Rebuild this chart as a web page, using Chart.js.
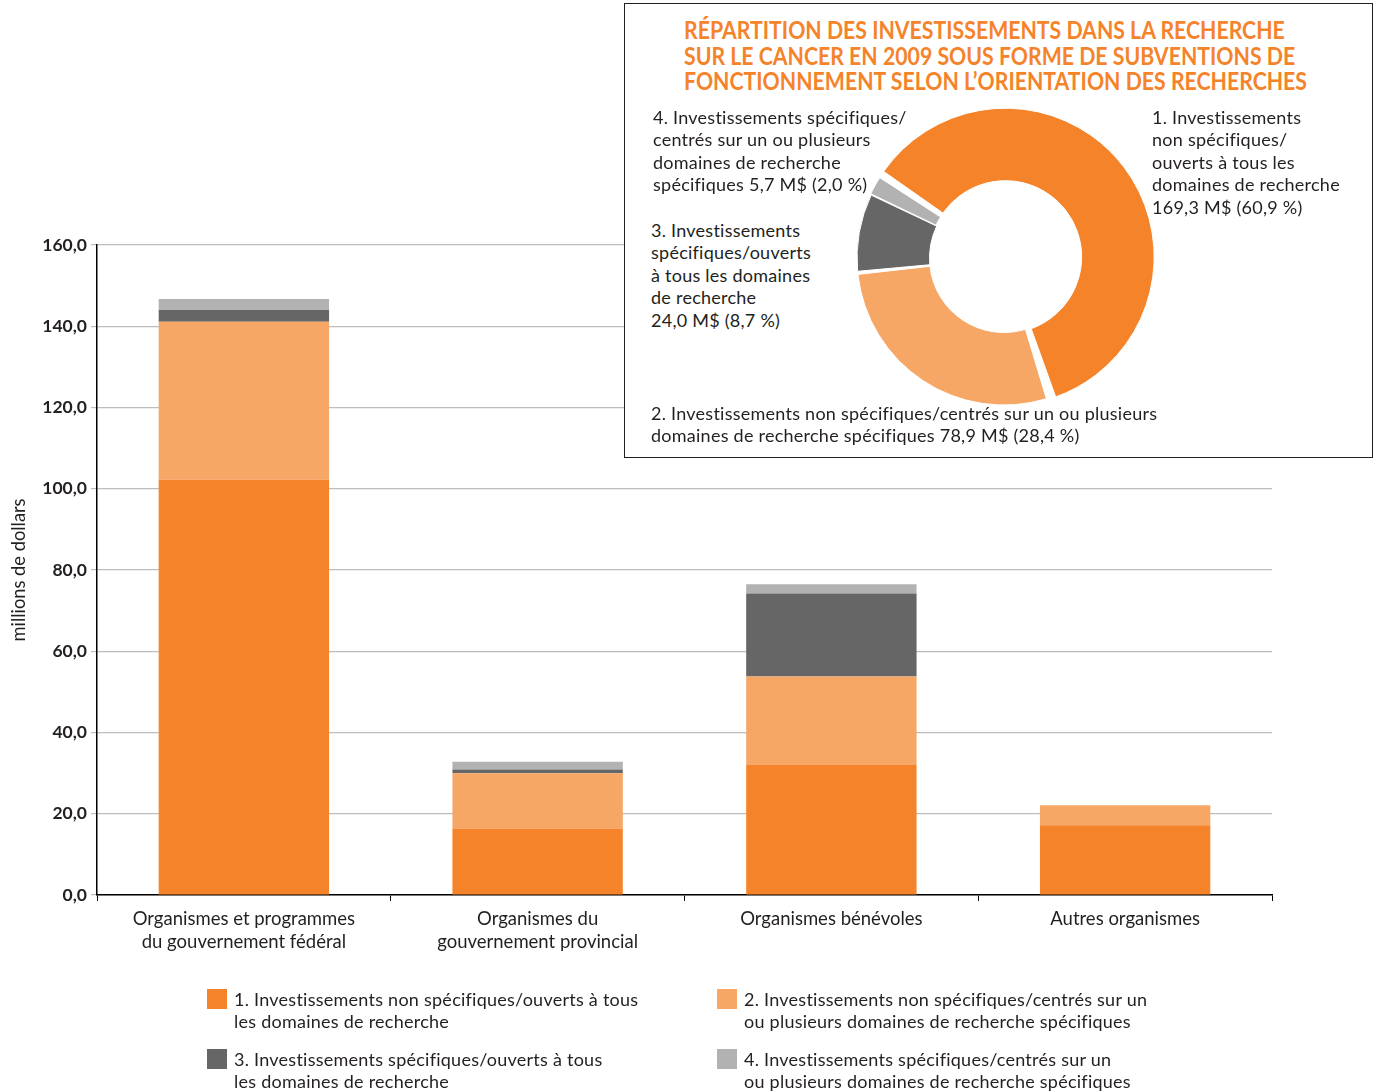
<!DOCTYPE html>
<html>
<head>
<meta charset="utf-8">
<script src="https://cdn.jsdelivr.net/npm/chart.js@4.4.1/dist/chart.umd.min.js"></script>
<style>
  body { margin: 0; background: #fff; }
  #wrap { position: relative; width: 1379px; height: 1092px; font-family: Lato, sans-serif; color: #231f20; }
  #main { position: absolute; left: 0; top: 0; }
  #inset { position: absolute; left: 624px; top: 3px; width: 749px; height: 455px; box-sizing: border-box; border: 1px solid #231f20; background: #fff; }
  #donut { position: absolute; left: 853px; top: 107px; }
  .title { position: absolute; left: 684px; top: 17px; font: bold 24px Lato, sans-serif; line-height: 25.5px; color: #f5832a; white-space: nowrap; transform-origin: 0 0; }
  .lbl { position: absolute; font-size: 18px; letter-spacing: 0.25px; line-height: 22.6px; white-space: nowrap; }
  .leg { position: absolute; font-size: 18px; letter-spacing: 0.25px; line-height: 22px; white-space: nowrap; }
  .sw { position: absolute; width: 20px; height: 20px; }
</style>
</head>
<body>
<div id="wrap">
  <canvas id="main" width="1379" height="1092"></canvas>
  <div id="inset"></div>
  <canvas id="donut" width="302" height="302"></canvas>
  <div class="title" id="title"></div>
</div>
<script>
// données
const categories = [
  ['Organismes et programmes', 'du gouvernement fédéral'],
  ['Organismes du', 'gouvernement provincial'],
  'Organismes bénévoles',
  'Autres organismes'
];
const seriesNames = [
  ['1. Investissements non spécifiques/ouverts à tous', 'les domaines de recherche'],
  ['2. Investissements non spécifiques/centrés sur un', 'ou plusieurs domaines de recherche spécifiques'],
  ['3. Investissements spécifiques/ouverts à tous', 'les domaines de recherche'],
  ['4. Investissements spécifiques/centrés sur un', 'ou plusieurs domaines de recherche spécifiques']
];
const nonSpecOpen = [102.2, 16.4, 32.0, 17.2];
const nonSpecFocused = [38.9, 13.6, 21.8, 4.9];
const specOpen = [2.9, 0.9, 20.4, 0];
const specFocused = [2.7, 1.9, 2.3, 0];
const colors = ['#f5832a', '#f6a765', '#666666', '#b2b2b2'];

const donutValues = [169.3, 78.9, 24.0, 5.7];
const donutTitle = [
  'RÉPARTITION DES INVESTISSEMENTS DANS LA RECHERCHE',
  'SUR LE CANCER EN 2009 SOUS FORME DE SUBVENTIONS DE',
  'FONCTIONNEMENT SELON L’ORIENTATION DES RECHERCHES'
];
const donutLabels = [
  ['1. Investissements', 'non spécifiques/', 'ouverts à tous les', 'domaines de recherche', '169,3 M$ (60,9 %)'],
  ['2. Investissements non spécifiques/centrés sur un ou plusieurs', 'domaines de recherche spécifiques 78,9 M$ (28,4 %)'],
  ['3. Investissements', 'spécifiques/ouverts', 'à tous les domaines', 'de recherche', '24,0 M$ (8,7 %)'],
  ['4. Investissements spécifiques/', 'centrés sur un ou plusieurs', 'domaines de recherche', 'spécifiques 5,7 M$ (2,0 %)']
];

const wrap = document.getElementById('wrap');

// titre : police condensée simulée
const titleEl = document.getElementById('title');
titleEl.innerHTML = donutTitle.join('<br>');
titleEl.style.transform = 'scaleX(' + (623 / titleEl.offsetWidth) + ')';

// étiquettes du graphique en anneau
const labelPos = [[1152, 105.7], [651, 401.7], [651, 218.7], [653, 105.7]];
donutLabels.forEach((lines, i) => {
  const d = document.createElement('div');
  d.className = 'lbl';
  d.style.left = labelPos[i][0] + 'px';
  d.style.top = labelPos[i][1] + 'px';
  d.innerHTML = lines.join('<br>');
  wrap.appendChild(d);
});

// légende
const legPos = [[207, 989], [717, 989], [207, 1049], [717, 1049]];
seriesNames.forEach((lines, i) => {
  const sw = document.createElement('div');
  sw.className = 'sw';
  sw.style.left = legPos[i][0] + 'px';
  sw.style.top = legPos[i][1] + 'px';
  sw.style.background = colors[i];
  wrap.appendChild(sw);
  const t = document.createElement('div');
  t.className = 'leg';
  t.style.left = (legPos[i][0] + 27) + 'px';
  t.style.top = (legPos[i][1] - 1) + 'px';
  t.innerHTML = lines.join('<br>');
  wrap.appendChild(t);
});

const values = [nonSpecOpen, nonSpecFocused, specOpen, specFocused];

new Chart(document.getElementById('main'), {
  type: 'bar',
  data: {
    labels: categories,
    datasets: values.map((v, i) => ({
      label: seriesNames[i].join(' '),
      data: v,
      backgroundColor: colors[i],
      borderWidth: 0,
      categoryPercentage: 1,
      barPercentage: 0.58
    }))
  },
  options: {
    responsive: false,
    animation: false,
    layout: { padding: { left: 0, right: 107, top: 245, bottom: 137 } },
    plugins: { legend: { display: false }, tooltip: { enabled: false } },
    scales: {
      x: {
        stacked: true,
        afterFit: s => { s.height = 60; },
        border: { color: '#000', width: 1.5 },
        grid: { offset: true, drawOnChartArea: false, drawTicks: true, tickLength: 6, color: '#000' },
        ticks: { color: '#231f20', padding: 6, font: { family: 'Lato', size: 18.5, lineHeight: 1.25 } }
      },
      y: {
        stacked: true,
        min: 0,
        max: 160,
        afterFit: s => { s.width = 97; },
        border: { color: '#000', width: 1.5 },
        grid: { color: '#bdbdbd', lineWidth: 1.2, tickLength: 6 },
        ticks: {
          stepSize: 20,
          padding: 4,
          color: '#231f20',
          font: { family: 'Lato', size: 17.5, weight: 'bold' },
          callback: v => v.toFixed(1).replace('.', ',')
        },
        title: {
          display: true,
          text: 'millions de dollars',
          color: '#231f20',
          padding: { top: 8, bottom: 0 },
          font: { family: 'Lato', size: 18.3 }
        }
      }
    }
  }
});

new Chart(document.getElementById('donut'), {
  type: 'doughnut',
  data: {
    labels: donutLabels.map(l => l.join(' ')),
    datasets: [{
      data: donutValues,
      backgroundColor: colors,
      borderColor: '#fff',
      borderWidth: 1,
      offset: [7, 0, 0, 2]
    }]
  },
  options: {
    responsive: false,
    animation: false,
    rotation: -57,
    cutout: '50%',
    spacing: 4,
    plugins: { legend: { display: false }, tooltip: { enabled: false } }
  }
});
</script>
</body>
</html>
